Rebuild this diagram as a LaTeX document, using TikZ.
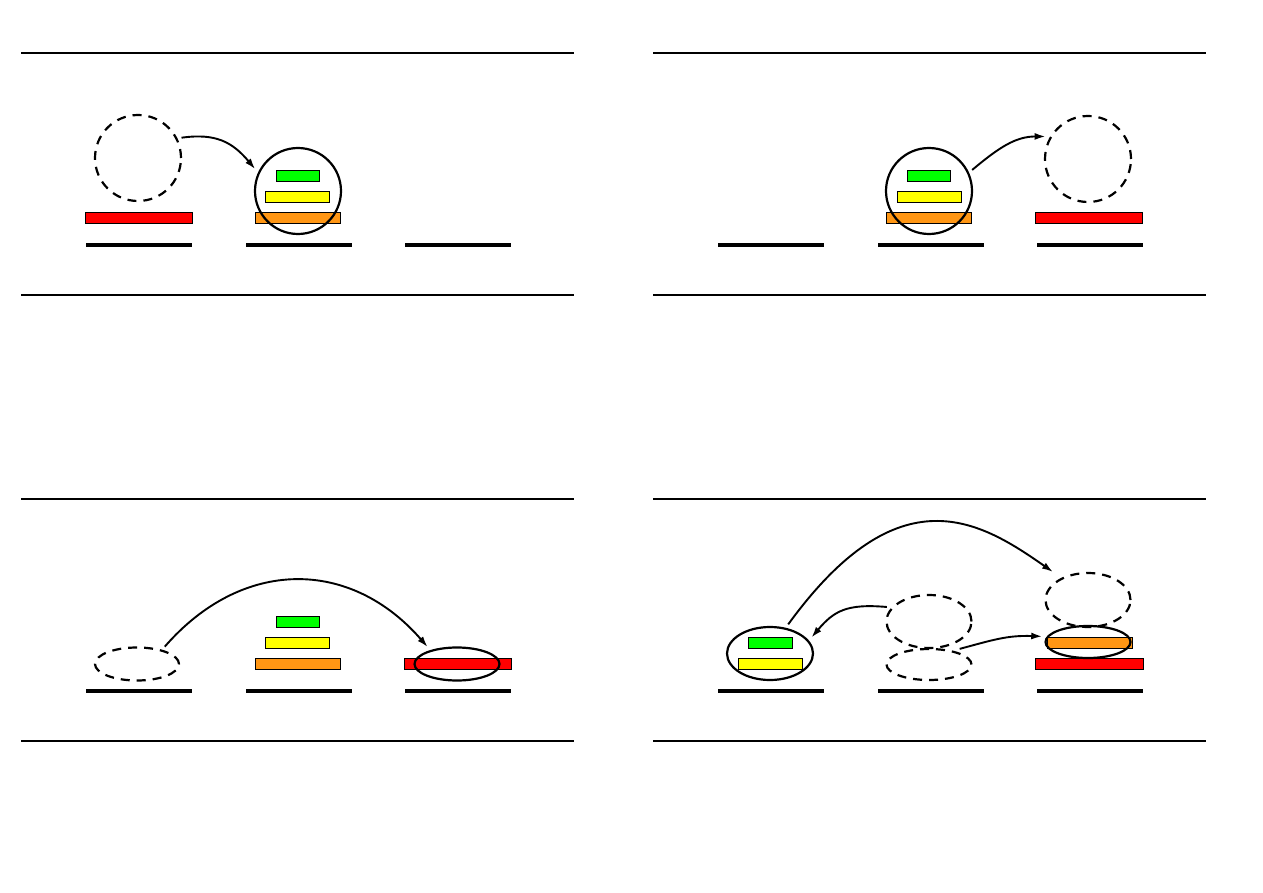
\documentclass[tikz,border=0pt]{standalone}
\usetikzlibrary{shapes.geometric,arrows.meta}
\definecolor{hred}{RGB}{255,0,0}
\definecolor{horange}{RGB}{255,150,20}
\definecolor{hyellow}{RGB}{255,255,0}
\definecolor{hgreen}{RGB}{0,255,0}
\begin{document}
\begin{tikzpicture}[x=1pt,y=1pt,
  sepline/.style={line width=2pt},
  peg/.style={line width=4pt},
  disk/.style={rectangle,draw=black,line width=0.8pt,minimum height=11pt,inner sep=0pt},
  ring/.style={ellipse,draw=black,line width=2.2pt,inner sep=0pt,outer sep=5pt},
  ghost/.style={ring,dash pattern=on 9pt off 7pt},
  mv/.style={line width=1.9pt,-{Latex[length=11pt,width=7pt]}}]
\path[use as bounding box] (0,0) rectangle (1263,-893);

% separators
\foreach \y in {-53,-295,-499,-741} {
  \draw[sepline] (21,\y) -- (574,\y);
  \draw[sepline] (653,\y) -- (1206,\y);
}
% pegs
\foreach \y in {-245,-691} {
  \foreach \c in {139,299,458,771,931,1090} {
    \draw[peg] (\c-53,\y) -- (\c+53,\y);
  }
}

% ---------- panel 1 ----------
\node[disk,fill=hred,minimum width=107pt] (p1r) at (138.5,-217.5) {};
\node[disk,fill=horange,minimum width=85pt] (p1o) at (297.5,-217.5) {};
\node[disk,fill=hyellow,minimum width=64pt] (p1y) at (297,-196.5) {};
\node[disk,fill=hgreen,minimum width=43pt] (p1g) at (297.5,-175.5) {};
\node[ghost,minimum width=86pt,minimum height=86pt] (d1) at (138,-158) {};
\node[ring,minimum width=86pt,minimum height=86pt] (c1) at (298,-191) {};
\draw[mv] (d1.25) .. controls +(8:35) and +(130:35) .. (c1.153);

% ---------- panel 2 ----------
\node[disk,fill=horange,minimum width=85pt] (p2o) at (929,-217.5) {};
\node[disk,fill=hyellow,minimum width=64pt] (p2y) at (929.5,-196.5) {};
\node[disk,fill=hgreen,minimum width=43pt] (p2g) at (929,-175.5) {};
\node[disk,fill=hred,minimum width=107pt] (p2r) at (1089,-217.5) {};
\node[ring,minimum width=86pt,minimum height=86pt] (c2) at (929,-191) {};
\node[ghost,minimum width=86pt,minimum height=86pt] (d2) at (1088,-159) {};
\draw[mv] (c2.26) .. controls +(40:35) and +(180:30) .. (d2.152);

% ---------- panel 3 ----------
\node[disk,fill=hgreen,minimum width=43pt] (p3g) at (297.5,-621.5) {};
\node[disk,fill=hyellow,minimum width=64pt] (p3y) at (297,-642.5) {};
\node[disk,fill=horange,minimum width=85pt] (p3o) at (297.5,-664) {};
\node[disk,fill=hred,minimum width=107pt] (p3r) at (457.5,-664) {};
\node[ghost,minimum width=84pt,minimum height=33pt] (e1) at (137,-664) {};
\node[ring,minimum width=85pt,minimum height=33pt] (e2) at (457,-664) {};
\draw[mv] (e1.32) .. controls +(49:118) and +(131:118) .. (e2.150);

% ---------- panel 4 ----------
\node[disk,fill=hgreen,minimum width=44pt] (p4g) at (770,-642.5) {};
\node[disk,fill=hyellow,minimum width=64pt] (p4y) at (770,-664) {};
\node[disk,fill=horange,minimum width=85pt] (p4o) at (1089.5,-642.5) {};
\node[disk,fill=hred,minimum width=108pt] (p4r) at (1089,-664) {};
\node[ring,minimum width=86pt,minimum height=53pt] (l4) at (770,-653.5) {};
\node[ghost,minimum width=85pt,minimum height=53pt] (m4u) at (929,-621.5) {};
\node[ghost,minimum width=85pt,minimum height=31pt] (m4l) at (929,-664.5) {};
\node[ghost,minimum width=85pt,minimum height=54pt] (u4) at (1088,-600) {};
\node[ring,minimum width=85pt,minimum height=32pt] (r4) at (1088,-642) {};
\coordinate (u4tip) at (1053,-572);
\draw[mv] (l4.58) .. controls +(54:189) and +(145:89) .. (u4tip);
\draw[mv] (m4u.161) .. controls +(175:40) and +(50:35) .. (l4.21);
\draw[mv] (m4l.27) .. controls +(15:35) and +(178:35) .. (r4.173);
\end{tikzpicture}
\end{document}
